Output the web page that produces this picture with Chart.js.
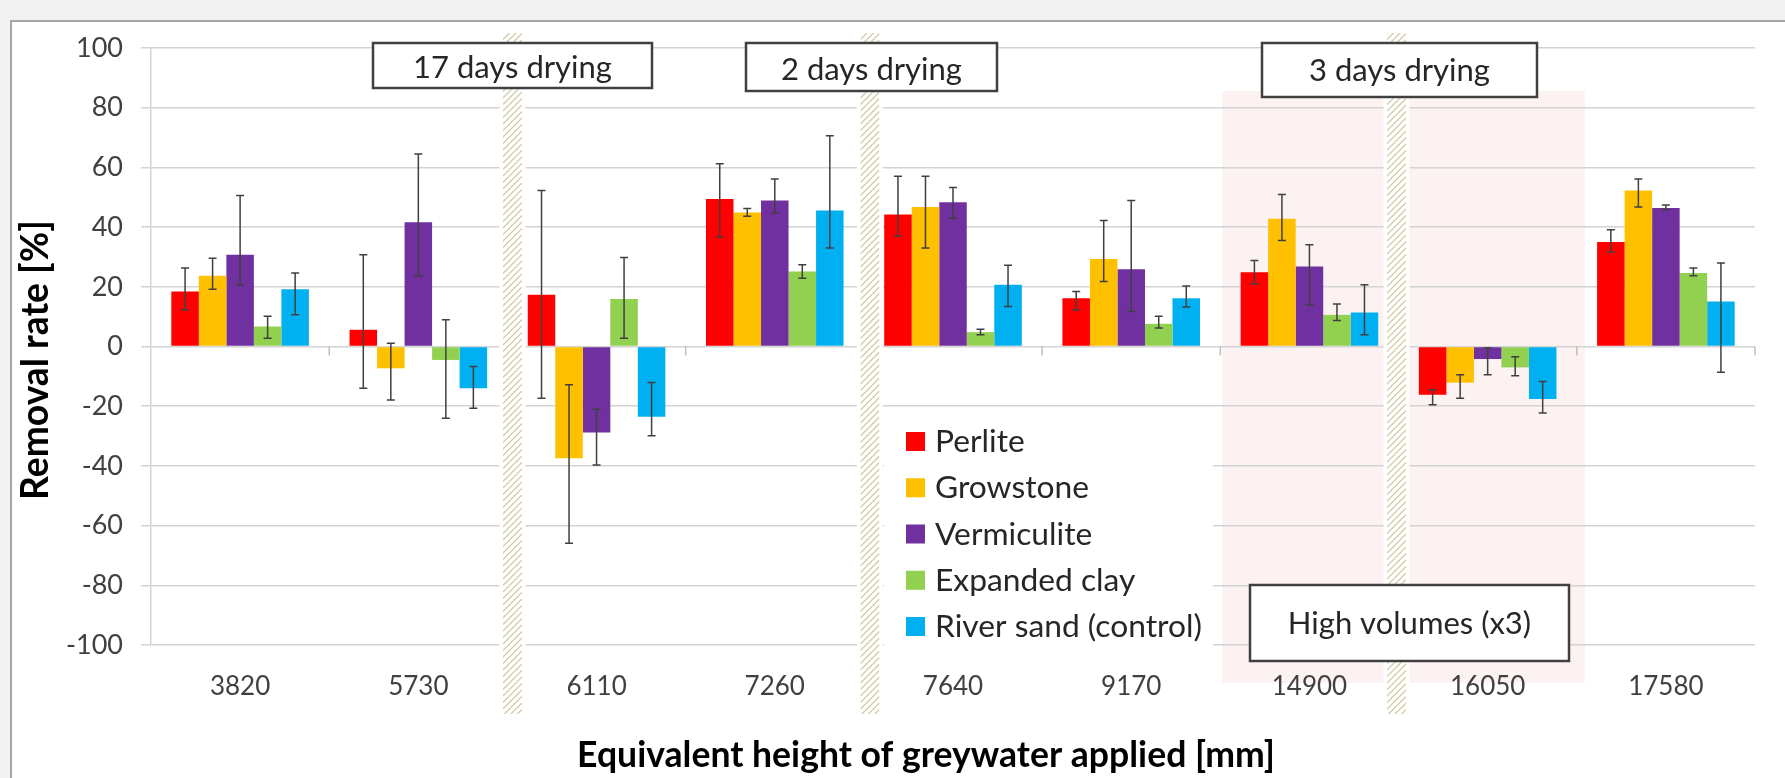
<!DOCTYPE html>
<html>
<head>
<meta charset="utf-8">
<title>Removal rate</title>
<script src="https://cdn.jsdelivr.net/npm/chart.js@4.4.1/dist/chart.umd.min.js"></script>
<style>
  body { margin: 0; background: #f2f2f2; overflow: hidden; }
  #painel { position: absolute; left: 10px; top: 20px; width: 1800px; height: 800px; background: #fff; border: 2px solid #a6a6a6; }
  #grafico { position: absolute; left: 0; top: 0; }
</style>
</head>
<body>
<div id="painel"></div>
<canvas id="grafico" width="1785" height="778"></canvas>
<script>
// Dados
const categorias = ['3820', '5730', '6110', '7260', '7640', '9170', '14900', '16050', '17580'];
const yTicks = [100, 80, 60, 40, 20, 0, -20, -40, -60, -80, -100];

const perlite      = [18.4, 5.6, 17.3, 49.4, 44.2, 16.2, 24.9, -16.2, 35.0];
const growstone    = [23.7, -7.3, -37.4, 44.9, 46.7, 29.3, 42.8, -12.1, 52.3];
const vermiculite  = [30.7, 41.6, -28.8, 48.9, 48.3, 25.9, 26.8, -4.2, 46.4];
const expandedClay = [6.7, -4.5, 15.9, 25.1, 4.8, 7.6, 10.6, -7.0, 24.6];
const riverSand    = [19.2, -14.0, -23.5, 45.6, 20.7, 16.2, 11.4, -17.6, 15.1];

// Barras de erro (limite inferior / superior)
const perliteMin = [12.3, -14.0, -17.3, 36.7, 36.9, 12.3, 21.0, -19.5, 31.6];
const perliteMax = [26.3, 30.7, 52.3, 61.2, 57.0, 18.4, 28.8, -14.5, 39.1];
const growMin    = [19.2, -17.9, -65.9, 43.6, 33.0, 21.8, 35.5, -17.3, 46.7];
const growMax    = [29.6, 1.1, -12.8, 46.2, 57.0, 42.2, 50.9, -9.5, 56.1];
const vermMin    = [20.5, 23.7, -39.7, 44.7, 43.0, 11.7, 14.0, -9.5, 45.8];
const vermMax    = [50.6, 64.5, -21.0, 56.1, 53.3, 48.9, 34.1, -0.5, 47.4];
const clayMin    = [2.8, -24.0, 2.8, 22.9, 3.9, 6.2, 8.7, -9.8, 23.7];
const clayMax    = [10.1, 9.0, 29.8, 27.4, 5.8, 10.1, 14.2, -3.4, 26.3];
const sandMin    = [10.6, -20.7, -29.9, 33.0, 13.4, 13.2, 3.9, -22.3, -8.6];
const sandMax    = [24.6, -6.7, -12.1, 70.6, 27.2, 20.3, 20.7, -11.7, 28.0];

// Quebras (hachuras) depois destas categorias
const quebras = [1, 3, 6];
const ajusteQuebra = [5, 6, -2];

// Fronteira entre a categoria i e i+1
function limite(x, i) {
  const meio = (x.getPixelForValue(1) - x.getPixelForValue(0)) / 2;
  return x.getPixelForValue(i) + meio;
}

// Tamanho de fonte que dá a largura pedida
function tamanho(ctx, texto, largura, peso) {
  ctx.font = peso + ' 100px Lato';
  return 100 * largura / ctx.measureText(texto).width;
}

function hachura(ctx, cx, topo, base) {
  const w = 19;
  ctx.save();
  ctx.fillStyle = '#fff';
  ctx.fillRect(cx - 13, topo, 26, base - topo);
  ctx.beginPath();
  ctx.rect(cx - w / 2, topo, w, base - topo);
  ctx.clip();
  ctx.strokeStyle = '#d2cba8';
  ctx.lineWidth = 1.3;
  for (let y = topo - w; y < base + w; y += 6.5) {
    ctx.beginPath();
    ctx.moveTo(cx - w / 2, y + w);
    ctx.lineTo(cx + w / 2, y);
    ctx.stroke();
  }
  ctx.restore();
}

function caixa(ctx, texto, x, y, w, h, base, fonte) {
  ctx.save();
  ctx.fillStyle = '#fff';
  ctx.fillRect(x, y, w, h);
  ctx.strokeStyle = '#404040';
  ctx.lineWidth = 2.5;
  ctx.strokeRect(x, y, w, h);
  ctx.fillStyle = '#262626';
  ctx.font = fonte + 'px Lato';
  ctx.textAlign = 'center';
  ctx.textBaseline = 'alphabetic';
  ctx.fillText(texto, x + w / 2, base);
  ctx.restore();
}

const extras = {
  id: 'extras',
  beforeDraw(chart) {
    const { ctx } = chart;
    const x = chart.scales.x;
    // Faixa rosa (volumes altos)
    const ini = limite(x, 5);
    const fim = limite(x, 7) + 8;
    ctx.save();
    ctx.fillStyle = '#fdf2f2';
    ctx.fillRect(ini + 2, 91, fim - ini - 2, 592);
    ctx.restore();
  },
  beforeDatasetsDraw(chart) {
    const { ctx } = chart;
    const x = chart.scales.x;
    const y = chart.scales.y;
    const zero = y.getPixelForValue(0);
    // Marcas do eixo x na linha zero
    ctx.save();
    ctx.strokeStyle = '#bfbfbf';
    ctx.lineWidth = 1.5;
    for (let i = 0; i < categorias.length; i++) {
      const bx = limite(x, i);
      ctx.beginPath();
      ctx.moveTo(bx, zero);
      ctx.lineTo(bx, zero + 9);
      ctx.stroke();
    }
    ctx.restore();
    // Hachuras
    quebras.forEach((q, k) => hachura(ctx, limite(x, q) + ajusteQuebra[k], 33, 714));
    // Fundo da legenda
    ctx.fillStyle = '#fff';
    ctx.fillRect(884, 414, 329, 242);
  },
  afterDatasetsDraw(chart) {
    const { ctx } = chart;
    const y = chart.scales.y;
    // Barras de erro
    ctx.save();
    ctx.strokeStyle = '#404040';
    ctx.lineWidth = 1.5;
    chart.data.datasets.forEach((ds, i) => {
      chart.getDatasetMeta(i).data.forEach((bar, j) => {
        const y1 = y.getPixelForValue(ds.erroMin[j]);
        const y2 = y.getPixelForValue(ds.erroMax[j]);
        ctx.beginPath();
        ctx.moveTo(bar.x, y1); ctx.lineTo(bar.x, y2);
        ctx.moveTo(bar.x - 4, y1); ctx.lineTo(bar.x + 4, y1);
        ctx.moveTo(bar.x - 4, y2); ctx.lineTo(bar.x + 4, y2);
        ctx.stroke();
      });
    });
    ctx.restore();

    // Caixas de texto
    const fCaixa = tamanho(ctx, '17 days drying', 199, '');
    caixa(ctx, '17 days drying', 373, 43, 279, 45, 78, fCaixa);
    caixa(ctx, '2 days drying', 746, 43, 251, 48, 80, fCaixa);
    caixa(ctx, '3 days drying', 1262, 43, 275, 54, 81, fCaixa);
    caixa(ctx, 'High volumes (x3)', 1250, 585, 319, 76, 634, fCaixa);

    // Legenda
    ctx.save();
    const fLeg = tamanho(ctx, 'River sand (control)', 267, '');
    ctx.font = fLeg + 'px Lato';
    ctx.textBaseline = 'alphabetic';
    chart.data.datasets.forEach((ds, k) => {
      const topo = 432 + k * 46.25;
      ctx.fillStyle = ds.backgroundColor;
      ctx.fillRect(906, topo, 19, 19);
      ctx.fillStyle = '#262626';
      ctx.fillText(ds.label, 935, topo + 20);
    });
    ctx.restore();

    // Títulos dos eixos
    ctx.save();
    ctx.fillStyle = '#000';
    ctx.textAlign = 'center';
    ctx.textBaseline = 'alphabetic';
    const tx = 'Equivalent height of greywater applied [mm]';
    ctx.font = 'bold ' + tamanho(ctx, tx, 698, 'bold') + 'px Lato';
    ctx.fillText(tx, 926, 767);
    const ty = 'Removal rate [%]';
    ctx.font = 'bold ' + tamanho(ctx, ty, 280, 'bold') + 'px Lato';
    ctx.translate(48, 360);
    ctx.rotate(-Math.PI / 2);
    ctx.fillText(ty, 0, 0);
    ctx.restore();
  }
};

new Chart(document.getElementById('grafico'), {
  type: 'bar',
  data: {
    labels: categorias,
    datasets: [
      { label: 'Perlite', data: perlite, backgroundColor: '#ff0000', erroMin: perliteMin, erroMax: perliteMax },
      { label: 'Growstone', data: growstone, backgroundColor: '#ffc000', erroMin: growMin, erroMax: growMax },
      { label: 'Vermiculite', data: vermiculite, backgroundColor: '#7030a0', erroMin: vermMin, erroMax: vermMax },
      { label: 'Expanded clay', data: expandedClay, backgroundColor: '#92d050', erroMin: clayMin, erroMax: clayMax },
      { label: 'River sand (control)', data: riverSand, backgroundColor: '#00b0f0', erroMin: sandMin, erroMax: sandMax }
    ]
  },
  options: {
    responsive: false,
    animation: false,
    events: [],
    layout: { padding: { top: 48, right: 30, left: 0, bottom: 0 } },
    datasets: { bar: { categoryPercentage: 0.772, barPercentage: 1 } },
    plugins: { legend: { display: false }, tooltip: { enabled: false } },
    scales: {
      x: {
        grid: { display: false, drawTicks: false },
        border: { display: false },
        ticks: { color: '#404040', font: { family: 'Lato', size: 26 }, padding: 26 },
        afterFit: s => { s.height = 133; }
      },
      y: {
        min: -100,
        max: 100,
        afterBuildTicks: s => { s.ticks = yTicks.map(v => ({ value: v })); },
        ticks: { color: '#404040', font: { family: 'Lato', size: 27 }, padding: 18 },
        grid: { color: '#d3d3d3', lineWidth: 1.5, tickLength: 10 },
        border: { color: '#d3d3d3', width: 1.5 },
        afterFit: s => { s.width = 151; }
      }
    }
  },
  plugins: [extras]
});
</script>
</body>
</html>
